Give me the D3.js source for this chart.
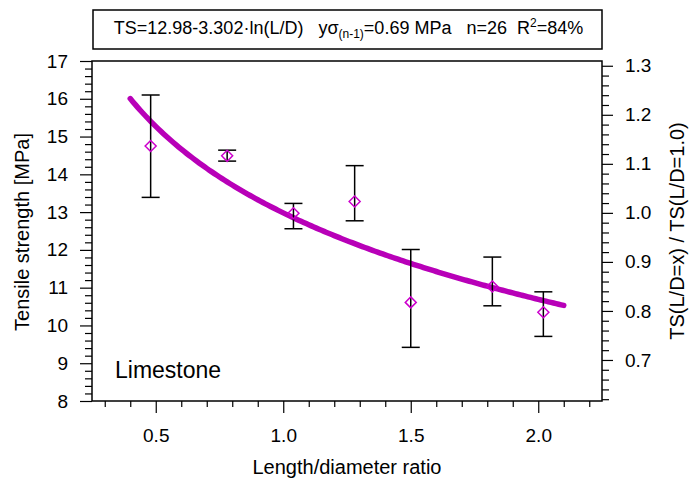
<!DOCTYPE html>
<html><head><meta charset="utf-8">
<script src="https://cdn.jsdelivr.net/npm/d3@7"></script>
<style>body{margin:0;background:#fff}svg{display:block;font-family:"Liberation Sans",Arial,sans-serif}</style>
</head><body>
<svg id="c" width="698" height="482"></svg>
<script>
const ldRatio = [0.48, 0.78, 1.04, 1.28, 1.50, 1.82, 2.02];
const tsMean  = [14.75, 14.49, 12.97, 13.28, 10.61, 11.03, 10.35];
const tsHigh  = [16.10, 14.64, 13.23, 14.23, 12.01, 11.81, 10.89];
const tsLow   = [13.39, 14.35, 12.56, 12.77, 9.42, 10.52, 9.71];
const fitA = 12.98, fitB = 3.302;
const fitRange = [0.4, 2.1];
const xTicks = [0.5, 1.0, 1.5, 2.0];
const yTicks = [8, 9, 10, 11, 12, 13, 14, 15, 16, 17];
const rTicks = [0.7, 0.8, 0.9, 1.0, 1.1, 1.2, 1.3];

const svg = d3.select("#c");
const L = 92, R = 602, T = 61, B = 401;
const x = d3.scaleLinear().domain([0.25, 2.25]).range([L, R]);
const y = d3.scaleLinear().domain([8, 17]).range([B, T]);
const yr = d3.scaleLinear().domain([8 / fitA, 17 / fitA]).range([B, T]);
const magenta = "#b800b8";
const FS = 19;

// title box
svg.append("rect").attr("x", 93).attr("y", 10).attr("width", 509).attr("height", 39)
  .attr("fill", "none").attr("stroke", "#000").attr("stroke-width", 1.5);
const tt = svg.append("text").attr("x", 348.5).attr("y", 34).attr("text-anchor", "middle")
  .attr("font-size", 18).attr("fill", "#000").style("white-space", "pre");
tt.append("tspan").text("TS=12.98-3.302·ln(L/D)   yσ");
tt.append("tspan").attr("font-size", 12).attr("dy", 4).text("(n-1)");
tt.append("tspan").attr("dy", -4).text("=0.69 MPa   n=26  R");
tt.append("tspan").attr("font-size", 12).attr("dy", -7).text("2");
tt.append("tspan").attr("dy", 7).text("=84%");

// axes
const minorX = d3.range(0.3, 2.25, 0.1).filter(v => !xTicks.some(t => Math.abs(t - v) < 1e-6));
const gx = svg.append("g").attr("transform", `translate(0,${B})`)
  .call(d3.axisBottom(x).tickValues(minorX).tickSize(6).tickFormat(""));
gx.select(".domain").remove();
const gx2 = svg.append("g").attr("transform", `translate(0,${B})`)
  .call(d3.axisBottom(x).tickValues(xTicks).tickSize(12).tickPadding(16).tickFormat(d3.format(".1f")));
gx2.select(".domain").remove();

const minorY = d3.range(8, 17.001, 0.2).filter(v => Math.abs(v - Math.round(v)) > 1e-6);
const gy = svg.append("g").attr("transform", `translate(${L},0)`)
  .call(d3.axisLeft(y).tickValues(minorY).tickSize(7).tickFormat(""));
gy.select(".domain").remove();
const gy2 = svg.append("g").attr("transform", `translate(${L},0)`)
  .call(d3.axisLeft(y).tickValues(yTicks).tickSize(12).tickPadding(12).tickFormat(d3.format("d")));
gy2.select(".domain").remove();

const minorR = d3.range(0.62, 1.31, 0.02).filter(v => Math.abs(v * 10 - Math.round(v * 10)) > 1e-6);
const gr = svg.append("g").attr("transform", `translate(${R},0)`)
  .call(d3.axisRight(yr).tickValues(minorR).tickSize(7).tickFormat(""));
gr.select(".domain").remove();
const gr2 = svg.append("g").attr("transform", `translate(${R},0)`)
  .call(d3.axisRight(yr).tickValues(rTicks).tickSize(11).tickPadding(12).tickFormat(d3.format(".1f")));
gr2.select(".domain").remove();

svg.selectAll(".tick line").attr("stroke", "#000").attr("stroke-width", 1.2);
svg.selectAll(".tick text").attr("font-size", FS).attr("fill", "#000")
  .attr("font-family", '"Liberation Sans",Arial,sans-serif');

svg.append("rect").attr("x", L).attr("y", T).attr("width", R - L).attr("height", B - T)
  .attr("fill", "none").attr("stroke", "#000").attr("stroke-width", 1.5);

// axis titles
svg.append("text").attr("x", 347).attr("y", 474).attr("text-anchor", "middle")
  .attr("font-size", 20).text("Length/diameter ratio");
svg.append("text").attr("transform", "translate(29,232) rotate(-90)").attr("text-anchor", "middle")
  .attr("font-size", 20).text("Tensile strength [MPa]");
svg.append("text").attr("transform", "translate(684,231) rotate(-90)").attr("text-anchor", "middle")
  .attr("font-size", 20).text("TS(L/D=x) / TS(L/D=1.0)");

// fit curve
const fitX = d3.range(fitRange[0], fitRange[1] + 1e-9, 0.01);
svg.append("path").datum(fitX)
  .attr("d", d3.line().x(d => x(d)).y(d => y(fitA - fitB * Math.log(d))))
  .attr("fill", "none").attr("stroke", magenta).attr("stroke-width", 5.5).attr("stroke-linecap", "round");

// error bars
const eb = svg.append("g").attr("stroke", "#000").attr("stroke-width", 1.5);
ldRatio.forEach((v, i) => {
  eb.append("line").attr("x1", x(v)).attr("x2", x(v)).attr("y1", y(tsHigh[i])).attr("y2", y(tsLow[i]));
  [tsHigh[i], tsLow[i]].forEach(w => eb.append("line").attr("x1", x(v) - 9).attr("x2", x(v) + 9)
    .attr("y1", y(w)).attr("y2", y(w)));
});

// diamonds
const ds = 5.5;
svg.append("g").selectAll("path").data(ldRatio).join("path")
  .attr("d", (v, i) => { const cx = x(v), cy = y(tsMean[i]);
    return `M${cx},${cy - ds}L${cx + ds},${cy}L${cx},${cy + ds}L${cx - ds},${cy}Z`; })
  .attr("fill", "none").attr("stroke", "#cc00cc").attr("stroke-width", 1.5);

svg.append("text").attr("x", 115).attr("y", 378).attr("font-size", 23).text("Limestone");
</script>
</body></html>
